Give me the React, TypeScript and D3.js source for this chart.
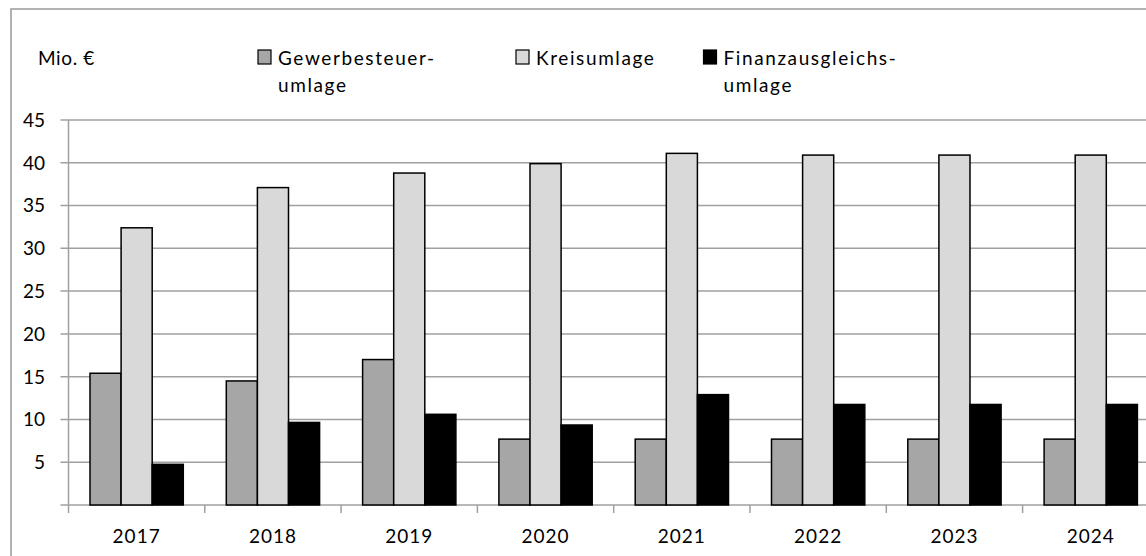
import React from 'react';
import * as d3 from 'd3';

const years = ['2017', '2018', '2019', '2020', '2021', '2022', '2023', '2024'];
const gewerbesteuerumlage = [15.4, 14.5, 17.0, 7.7, 7.7, 7.7, 7.7, 7.7];
const kreisumlage = [32.4, 37.1, 38.8, 39.9, 41.1, 40.9, 40.9, 40.9];
const finanzausgleichsumlage = [4.75, 9.65, 10.6, 9.35, 12.9, 11.75, 11.75, 11.75];
const yTicks = [5, 10, 15, 20, 25, 30, 35, 40, 45];

const seriesKeys = ['gew', 'kreis', 'fin'];
const seriesValues: Record<string, number[]> = {
  gew: gewerbesteuerumlage,
  kreis: kreisumlage,
  fin: finanzausgleichsumlage,
};
const seriesFill: Record<string, string> = { gew: '#a6a6a6', kreis: '#d9d9d9', fin: '#000000' };

const W = 1146;
const H = 556;
const FONT = 'Lato, "Open Sans", sans-serif';

const App: React.FC = () => {
  const left = 68.5;
  const band = 136.3;
  const x = d3.scaleBand<string>()
    .domain(years)
    .range([left, left + band * years.length])
    .padding(0);
  const xInner = d3.scaleBand<string>()
    .domain(seriesKeys)
    .range([21.5, band - 21.5])
    .padding(0);
  const y = d3.scaleLinear().domain([0, 45]).range([505, 120]);

  const legend = [
    { key: 'gew', x: 258, lines: ['Gewerbesteuer-', 'umlage'] },
    { key: 'kreis', x: 516, lines: ['Kreisumlage'] },
    { key: 'fin', x: 703.5, lines: ['Finanzausgleichs-', 'umlage'] },
  ];

  return (
    <svg
      width={W}
      height={H}
      viewBox={`0 0 ${W} ${H}`}
      style={{ position: 'absolute', left: 0, top: 0, background: '#fff' }}
      fontFamily={FONT}
    >
      {/* outer frame */}
      <rect x={11} y={9} width={W} height={H} fill="#fff" stroke="#999" strokeWidth={1.5} />

      {/* gridlines */}
      {yTicks.map(t => (
        <line key={`g-${t}`} x1={left - 8} x2={W} y1={y(t)} y2={y(t)} stroke="#a0a0a0" strokeWidth={1.5} />
      ))}

      {/* y axis */}
      <line x1={left} x2={left} y1={y(45)} y2={y(0) + 8} stroke="#a0a0a0" strokeWidth={1.5} />
      <line x1={left - 8} x2={W} y1={y(0)} y2={y(0)} stroke="#a0a0a0" strokeWidth={1.5} />
      {yTicks.map(t => (
        <text key={`yt-${t}`} x={45} y={y(t)} dy="0.36em" textAnchor="end" fontSize={19} fill="#000">
          {t}
        </text>
      ))}

      {/* x ticks */}
      {years.map(yr => (
        <line
          key={`xt-${yr}`}
          x1={(x(yr) as number) + band}
          x2={(x(yr) as number) + band}
          y1={y(0)}
          y2={y(0) + 8}
          stroke="#a0a0a0"
          strokeWidth={1.5}
        />
      ))}

      {/* bars */}
      {years.map((yr, i) => (
        <g key={`bars-${yr}`} transform={`translate(${x(yr)},0)`}>
          {seriesKeys.map(k => (
            <rect
              key={k}
              x={xInner(k)}
              y={y(seriesValues[k][i])}
              width={xInner.bandwidth()}
              height={y(0) - y(seriesValues[k][i])}
              fill={seriesFill[k]}
              stroke="#000"
              strokeWidth={1.5}
            />
          ))}
        </g>
      ))}

      {/* category labels */}
      {years.map(yr => (
        <text
          key={`xl-${yr}`}
          x={(x(yr) as number) + band / 2}
          y={543}
          textAnchor="middle"
          fontSize={19}
          letterSpacing={1}
          fill="#000"
        >
          {yr}
        </text>
      ))}

      {/* unit label */}
      <text x={38} y={65} fontSize={19} letterSpacing={0.6} fill="#000">Mio. €</text>

      {/* legend */}
      {legend.map(l => (
        <g key={`lg-${l.key}`}>
          <rect x={l.x} y={50} width={13} height={14} fill={seriesFill[l.key]} stroke="#000" strokeWidth={1.2} />
          {l.lines.map((ln, j) => (
            <text key={j} x={l.x + 20} y={65 + j * 27} fontSize={19} letterSpacing={1.6} fill="#000">
              {ln}
            </text>
          ))}
        </g>
      ))}
    </svg>
  );
};

export default App;
